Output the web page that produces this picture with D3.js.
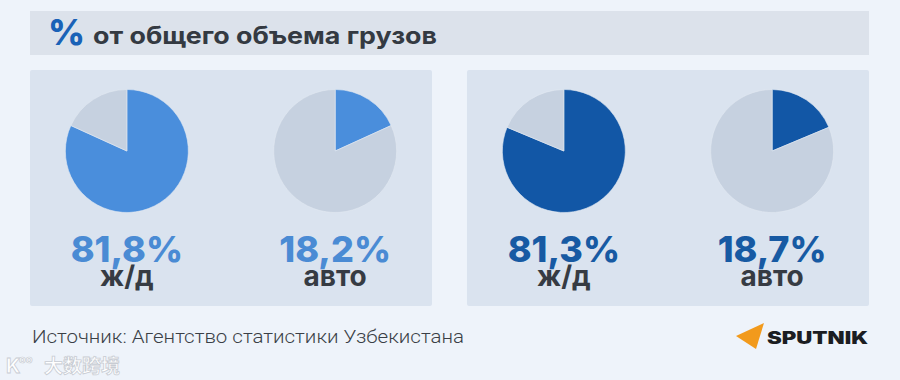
<!DOCTYPE html>
<html><head><meta charset="utf-8">
<script src="https://cdn.jsdelivr.net/npm/d3@7"></script>
<style>
html,body{margin:0;padding:0;background:#eef3fa;}
svg{display:block;}
</style></head>
<body><svg id="c" width="900" height="380"></svg>
<script>
// ---- data ----
const titleText = "от общего объема грузов";
const groups = ["g1", "g2"];
const categories = ["ж/д", "авто"];
const values = [[81.8, 18.2], [81.3, 18.7]];
const valueLabels = [["81,8%", "18,2%"], ["81,3%", "18,7%"]];
const sourceText = "Источник: Агентство статистики Узбекистана";
const brandText = "SPUTNIK";
const watermarkText = "大数跨境";

// ---- styles ----
const accent = ["#4a8edc", "#1257a6"];
const labelColor = ["#4a8bd4", "#175aa3"];
const restColor = "#c6d1e0";
const panelColor = "#dae3ef";

const svg = d3.select("#c");
const W = 900, H = 380;

svg.append("rect").attr("width", W).attr("height", H).attr("fill", "#eef3fa");

// title bar
svg.append("rect").attr("x", 30).attr("y", 11).attr("width", 839).attr("height", 44).attr("fill", "#dce2eb");
svg.append("text").attr("x", 48).attr("y", 45)
  .attr("font-family", "Inter, sans-serif").attr("font-weight", 800).attr("font-size", 36)
  .attr("fill", "#1a62b7").text("%");
svg.append("text").attr("x", 93).attr("y", 44)
  .attr("font-family", "Inter, sans-serif").attr("font-weight", 700).attr("font-size", 24)
  .attr("fill", "#343a42").attr("textLength", 344).attr("lengthAdjust", "spacingAndGlyphs")
  .text(titleText);

// panels
const panelX = d3.scaleBand().domain(groups).range([30, 869]).paddingInner(0.08);
const pieX = d3.scalePoint().domain(categories).range([0, 1]).padding(0.465);

const pie = d3.pie().sort(null).value(d => d);
const arc = d3.arc().innerRadius(0).outerRadius(61.5);

groups.forEach((g, gi) => {
  const px = panelX(g), pw = panelX.bandwidth();
  svg.append("rect").attr("x", px).attr("y", 70).attr("width", pw).attr("height", 236)
    .attr("rx", 2).attr("fill", panelColor);
  const cx = d3.scaleLinear().domain([0, 1]).range([px, px + pw]);
  categories.forEach((cat, ci) => {
    const v = values[gi][ci];
    const x = cx(pieX(cat));
    const gEl = svg.append("g").attr("transform", `translate(${x},151)`);
    gEl.selectAll("path").data(pie([v, 100 - v])).join("path")
      .attr("d", arc)
      .attr("fill", (d, i) => i === 0 ? accent[gi] : restColor)
      .attr("stroke", "#e3e9f2").attr("stroke-width", 0.6);
    const t = svg.append("text").attr("text-anchor", "middle")
      .attr("font-family", "Inter, sans-serif");
    t.append("tspan").attr("x", x).attr("y", 262)
      .attr("font-weight", 800).attr("font-size", 36)
      .attr("fill", labelColor[gi]).text(valueLabels[gi][ci]);
    t.append("tspan").attr("x", x).attr("y", 286)
      .attr("font-weight", 700).attr("font-size", 28)
      .attr("fill", "#363b43").text(cat);
  });
});

// footer
svg.append("text").attr("x", 32).attr("y", 343)
  .attr("font-family", "Roboto, sans-serif").attr("font-weight", 300).attr("font-size", 18.5)
  .attr("fill", "#3a3f46").attr("textLength", 432).attr("lengthAdjust", "spacingAndGlyphs")
  .text(sourceText);

// brand
svg.append("path").attr("d", "M736,336 L764,323 L756,349 Z").attr("fill", "#f29a1c");
svg.append("text").attr("x", 767).attr("y", 344)
  .attr("font-family", "Inter, sans-serif").attr("font-weight", 900).attr("font-size", 17)
  .attr("fill", "#1b1d22").attr("textLength", 101).attr("lengthAdjust", "spacingAndGlyphs")
  .text(brandText);

// watermark
svg.append("text").attr("x", 44).attr("y", 373)
  .attr("font-family", "'Noto Sans CJK SC', sans-serif").attr("font-weight", 700).attr("font-size", 19)
  .attr("fill", "#ffffff").attr("stroke", "#c8ccd3").attr("stroke-width", 0.8)
  .text(watermarkText);
svg.append("text").attr("x", 6).attr("y", 373)
  .attr("font-family", "Inter, sans-serif").attr("font-weight", 700).attr("font-size", 20)
  .attr("fill", "#ffffff").attr("stroke", "#c8ccd3").attr("stroke-width", 0.8)
  .text("K");
svg.append("text").attr("x", 19).attr("y", 363)
  .attr("font-family", "Inter, sans-serif").attr("font-weight", 700).attr("font-size", 11)
  .attr("fill", "#ffffff").attr("stroke", "#c8ccd3").attr("stroke-width", 0.7)
  .text("oo");
</script></body></html>
